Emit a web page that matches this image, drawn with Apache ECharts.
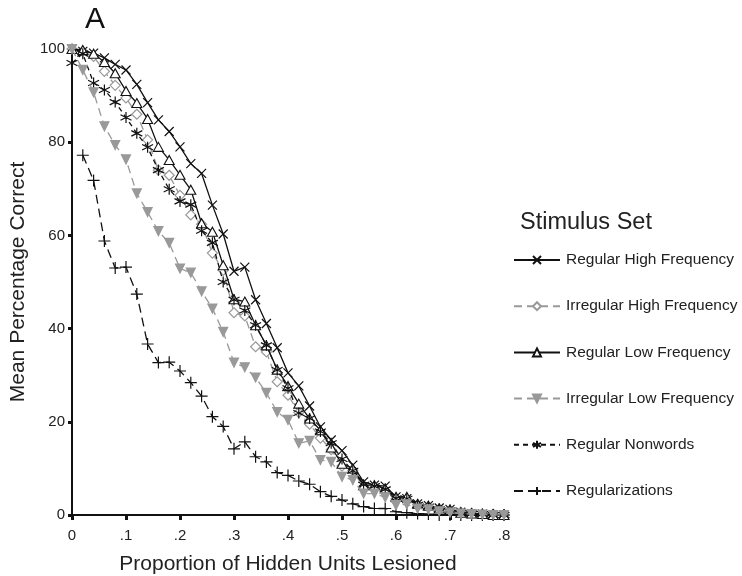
<!DOCTYPE html>
<html>
<head>
<meta charset="utf-8">
<script src="https://cdn.jsdelivr.net/npm/echarts@6/dist/echarts.min.js"></script>
<style>
  html, body { margin: 0; padding: 0; background: #fff; }
  #chart { width: 742px; height: 576px; }
</style>
</head>
<body>
<div id="chart"></div>
<script>
// Proportion of hidden units lesioned (x positions of every sample)
const lesionLevels = [0, .02, .04, .06, .08, .10, .12, .14, .16, .18, .20, .22, .24, .26, .28,
  .30, .32, .34, .36, .38, .40, .42, .44, .46, .48, .50, .52, .54, .56, .58, .60,
  .62, .64, .66, .68, .70, .72, .74, .76, .78, .80];

// Mean percentage correct per stimulus set
const regularHighFreq = [100, 99.5, 99.1, 98.1, 96.7, 95.5, 92.4, 88.5, 84.8, 82.3, 79, 75.4, 73.3, 66.5, 60.3,
  52.3, 53.2, 46.2, 41.1, 35.9, 30.5, 27.7, 23.4, 18.9, 16.1, 13.8, 10.7, 7.1, 6.4, 6.2, 3.9,
  3.5, 2.4, 2.0, 1.5, 1.2, 0.6, 0.3, 0.2, 0, 0];
const irregularHighFreq = [100, 99.5, 98.4, 95.2, 92.2, 89.5, 86, 80.5, 74, 72.9, 68.6, 64.4, 62.4, 56.2, 52.5,
  43.4, 42.7, 36.1, 35, 28.6, 25.7, 22, 19.5, 16.5, 14, 10.5, 9.5, 6, 5.8, 5.2, 3.5,
  3.3, 2.2, 1.8, 1.3, 1.0, 0.6, 0.4, 0.2, 0.2, 0];
const regularLowFreq = [100, 99.8, 99, 97.2, 94.8, 91, 88.4, 85, 79, 76.2, 73, 69.8, 62.6, 60.8, 53.6,
  46.3, 45.8, 40.7, 36.4, 31.2, 27.7, 23.9, 20.7, 18.2, 14.5, 11, 10, 6.4, 6.4, 5.7, 3.9,
  3.9, 2.4, 2.0, 1.4, 1.2, 0.5, 0.3, 0.2, 0, 0];
const irregularLowFreq = [100, 95.5, 90.7, 83.4, 79.4, 76.3, 69, 65, 60.9, 58.4, 52.9, 52, 48, 44.3, 39.3,
  32.7, 31.7, 29.5, 26.2, 22.1, 20.4, 15.4, 15.9, 11.8, 11.4, 8.2, 7.5, 4.6, 4.6, 3.8, 2.1,
  2.3, 1.4, 1.2, 0.8, 0.5, 0.3, 0.2, 0.1, 0, 0];
const regularNonwords = [97, 99, 92.7, 91.2, 88.6, 85.3, 81.9, 78.9, 74, 69.9, 67.3, 66.6, 61, 58.4, 50,
  46.2, 43.9, 40.7, 36.4, 31.1, 27.2, 21.9, 20.7, 17.9, 15.4, 12, 9.5, 6.5, 6.2, 5.5, 3.6,
  3.5, 2.2, 1.8, 1.3, 1.0, 0.5, 0.3, 0.2, 0, 0];
const regularizations = [null, 77.2, 71.8, 58.8, 53, 53.2, 47.4, 36.7, 32.7, 32.8, 30.9, 28.4, 25.5, 21.1, 19,
  14.2, 15.7, 12.5, 11.4, 9.1, 8.5, 7.3, 6.6, 5, 4, 3.2, 2.4, 1.8, 1.4, 1.4, 0.7,
  0.5, 0.3, 0.2, 0, 0, 0, 0, 0, 0, 0];

const seriesNames = ['Regular High Frequency', 'Irregular High Frequency', 'Regular Low Frequency',
  'Irregular Low Frequency', 'Regular Nonwords', 'Regularizations'];
const xTickLabels = ['0', '.1', '.2', '.3', '.4', '.5', '.6', '.7', '.8'];
const yTickLabels = ['0', '20', '40', '60', '80', '100'];

const FONT = '"Liberation Sans", Arial, sans-serif';
const BLACK = '#111';
const GREY = '#999';
const TEXT = '#222';

// Marker shapes (outlined; open paths are stroke only)
const CROSS = 'path://M0,0 L10,10 M10,0 L0,10';
const PLUS = 'path://M5,0 L5,10 M0,5 L10,5';
const STAR = 'path://M5,0 L5,10 M0.7,2.5 L9.3,7.5 M9.3,2.5 L0.7,7.5';
const TRIANGLE = 'path://M5,0 L10,9 L0,9 Z';
const DIAMOND = 'path://M5,0 L10,5 L5,10 L0,5 Z';

const pair = vals => lesionLevels.map((x, i) => [x, vals[i]]);

function makeSeries(name, vals, opts) {
  return {
    name: name,
    type: 'line',
    data: pair(vals),
    symbol: opts.symbol,
    symbolSize: opts.size,
    symbolRotate: opts.rotate || 0,
    showAllSymbol: true,
    connectNulls: false,
    lineStyle: { color: opts.color, width: opts.width || 1.3, type: opts.dash || 'solid' },
    itemStyle: {
      color: opts.fill,
      borderColor: opts.color,
      borderWidth: opts.borderWidth || 1.2
    },
    emphasis: { disabled: true },
    animation: false,
    z: opts.z || 2
  };
}

const chart = echarts.init(document.getElementById('chart'), null, { renderer: 'canvas' });

chart.setOption({
  backgroundColor: '#fff',
  animation: false,
  textStyle: { fontFamily: FONT },
  title: [{
    text: 'A',
    left: 80,
    top: 0,
    textStyle: { fontFamily: FONT, fontSize: 30, fontWeight: 'normal', color: BLACK }
  }, {
    text: 'Stimulus Set',
    left: 515,
    top: 206,
    textStyle: { fontFamily: FONT, fontSize: 23.5, fontWeight: 'normal', color: TEXT }
  }],
  grid: { left: 72, right: 238, top: 49, bottom: 61, containLabel: false, outerBoundsMode: 'none' },
  xAxis: {
    type: 'value',
    min: 0,
    max: 0.8,
    interval: 0.1,
    name: 'Proportion of Hidden Units Lesioned',
    nameLocation: 'middle',
    nameGap: 39,
    nameTextStyle: { fontFamily: FONT, fontSize: 21, color: TEXT },
    axisLine: { lineStyle: { color: BLACK, width: 2 } },
    axisTick: { show: true, length: 5, lineStyle: { color: BLACK, width: 3 } },
    axisLabel: {
      fontFamily: FONT, fontSize: 15, color: TEXT, margin: 13,
      formatter: v => xTickLabels[Math.round(v * 10)]
    },
    splitLine: { show: false }
  },
  yAxis: {
    type: 'value',
    min: 0,
    max: 100,
    interval: 20,
    name: 'Mean Percentage Correct',
    nameLocation: 'middle',
    nameGap: 43,
    nameTextStyle: { fontFamily: FONT, fontSize: 21, color: TEXT },
    axisLine: { show: true, lineStyle: { color: BLACK, width: 2 } },
    axisTick: { show: true, length: 4, lineStyle: { color: BLACK, width: 3 } },
    axisLabel: {
      fontFamily: FONT, fontSize: 15, color: TEXT, margin: 7,
      formatter: v => yTickLabels[Math.round(v / 20)]
    },
    splitLine: { show: false }
  },
  legend: {
    orient: 'vertical',
    left: 508,
    top: 247,
    itemWidth: 46,
    itemHeight: 10,
    itemGap: 30.2,
    textStyle: { fontFamily: FONT, fontSize: 15.5, color: TEXT, padding: [0, 0, 0, 1] },
    data: seriesNames,
    selectedMode: false
  },
  series: [
    makeSeries(seriesNames[0], regularHighFreq, { symbol: CROSS, size: 9, color: BLACK, fill: 'none', z: 3 }),
    makeSeries(seriesNames[1], irregularHighFreq, { symbol: DIAMOND, size: 10, color: GREY, fill: '#fff', dash: [8, 5], borderWidth: 1.2, z: 2 }),
    makeSeries(seriesNames[2], regularLowFreq, { symbol: TRIANGLE, size: [10, 9], color: BLACK, fill: '#fff', borderWidth: 1.1, z: 3 }),
    makeSeries(seriesNames[3], irregularLowFreq, { symbol: 'triangle', rotate: 180, size: 9, color: GREY, fill: GREY, dash: [8, 5], z: 4 }),
    makeSeries(seriesNames[4], regularNonwords, { symbol: STAR, size: 11, color: BLACK, fill: 'none', dash: [5, 4], z: 3 }),
    makeSeries(seriesNames[5], regularizations, { symbol: PLUS, size: 12, color: BLACK, fill: 'none', dash: [9, 5], z: 3 })
  ]
});
</script>
</body>
</html>
